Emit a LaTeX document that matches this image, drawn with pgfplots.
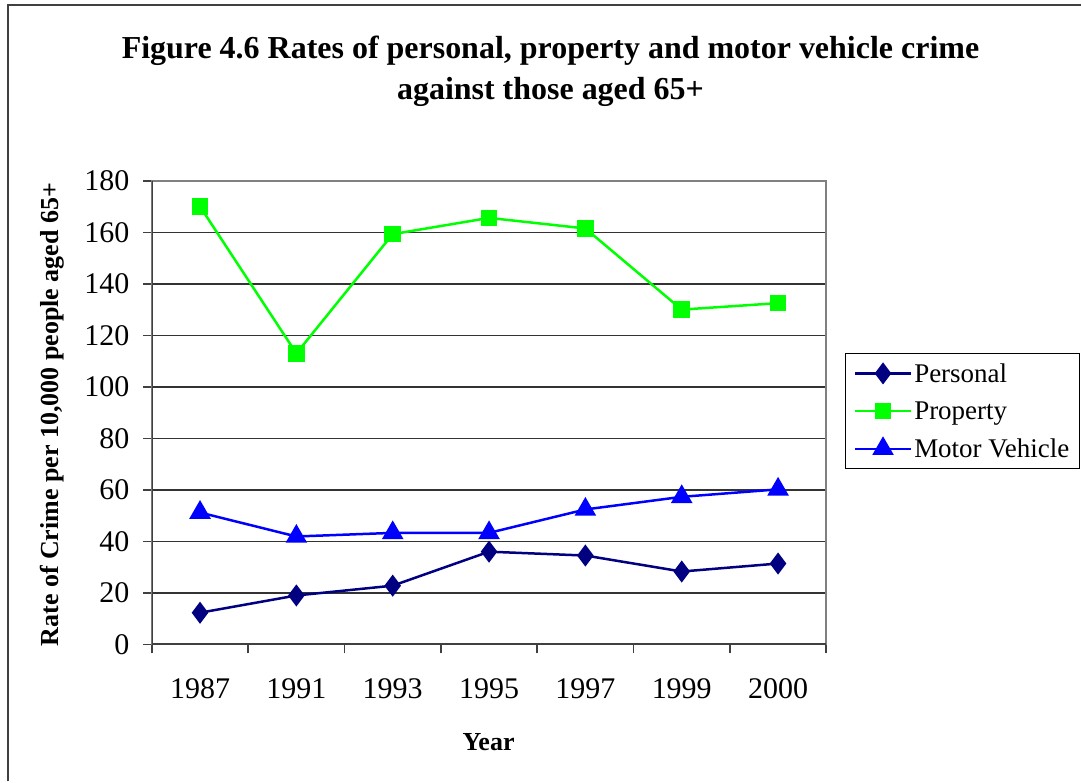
\documentclass[border=0pt]{standalone}
\usepackage{pgfplots}
\pgfplotsset{compat=1.18}
\usepackage{fontspec}
\setmainfont{Liberation Serif}
\definecolor{pnavy}{HTML}{000080}
\definecolor{pgreen}{HTML}{00FF00}
\definecolor{pblue}{HTML}{0000FF}
\begin{document}
\begin{tikzpicture}
\path (0pt,0pt) rectangle (1082pt,782pt);
\draw[line width=2pt, black!75] (8pt,0pt) -- (8pt,777pt) -- (1082pt,777pt);
\node[font=\fontsize{32}{41}\selectfont\bfseries, align=center, anchor=north] at (551pt,749pt)
  {Figure 4.6 Rates of personal, property and motor vehicle crime\\against those aged 65+};
\node[font=\fontsize{26}{30}\selectfont\bfseries, rotate=90] at (52pt,367pt) {Rate of Crime per 10,000 people aged 65+};
\node[font=\fontsize{26}{30}\selectfont\bfseries] at (489pt,39pt) {Year};
\begin{axis}[
  at={(152pt,137pt)}, anchor=south west,
  scale only axis, width=675pt, height=464pt,
  xmin=-0.5, xmax=6.5, ymin=0, ymax=180,
  xtick={0,...,6},
  xticklabels={1987,1991,1993,1995,1997,1999,2000},
  minor xtick={-0.5,0.5,...,6.5},
  major x tick style={draw=none},
  ytick={0,20,...,180},
  tick align=outside,
  major tick length=9pt, minor tick length=9pt,
  tick style={line width=1.5pt, black!75},
  xtick pos=bottom, ytick pos=left,
  ymajorgrids,
  grid style={line width=1.5pt, black!80},
  axis line style={line width=2pt, gray},
  /pgf/number format/assume math mode=true,
  ticklabel style={font=\fontsize{30}{36}\selectfont},
  yticklabel style={xshift=-10pt},
  xticklabel style={yshift=-22pt},
  legend style={at={(1.376,0.629)}, anchor=north east, draw=black, line width=1pt,
     font=\fontsize{27}{31}\selectfont, row sep=14pt, inner sep=8pt},
  legend cell align=left,
  legend image code/.code={\draw[#1] (0pt,0pt) -- (56pt,0pt); \draw[#1, mark repeat=1] plot coordinates {(28pt,0pt)};},
  every axis plot/.append style={line width=2.5pt},
]
\addplot[pnavy, mark=diamond*, mark size=9pt] coordinates {
 (0,12.3) (1,19) (2,22.8) (3,36) (4,34.5) (5,28.3) (6,31.4)};
\addlegendentry{Personal}
\addplot[pgreen, mark=square*, mark size=7pt] coordinates {
 (0,170) (1,113) (2,159.3) (3,165.6) (4,161.5) (5,130) (6,132.5)};
\addlegendentry{Property}
\addplot[pblue, mark=triangle*, mark size=10pt] coordinates {
 (0,51.2) (1,41.9) (2,43.3) (3,43.3) (4,52.4) (5,57.3) (6,60.2)};
\addlegendentry{Motor Vehicle}
\draw[line width=2pt, black!75] (rel axis cs:0,1) -- (rel axis cs:0,0) -- (rel axis cs:1,0);
\end{axis}
\end{tikzpicture}
\end{document}
